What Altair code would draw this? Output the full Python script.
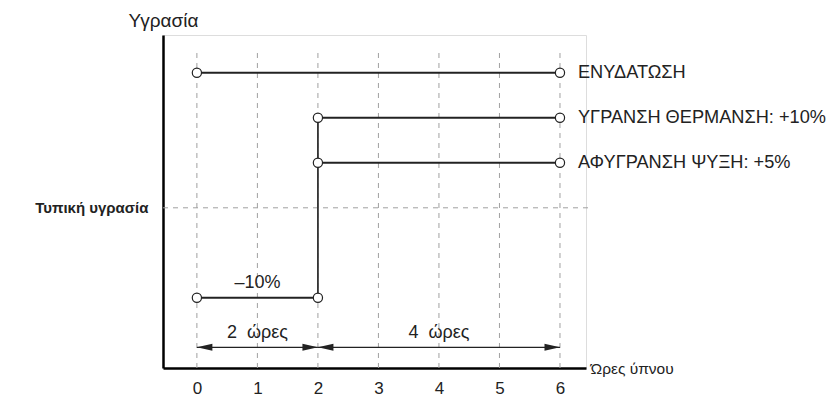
import altair as alt
import pandas as pd

# ---- data ----
series_names = ["ΕΝΥΔΑΤΩΣΗ", "ΥΓΡΑΝΣΗ ΘΕΡΜΑΝΣΗ: +10%", "ΑΦΥΓΡΑΝΣΗ ΨΥΞΗ: +5%", "–10%"]
series_start = [0, 2, 2, 0]
series_end = [6, 6, 6, 2]
series_level = [15, 10, 5, -10]
show_right_label = [True, True, True, False]

hours = [0, 1, 2, 3, 4, 5, 6]
typical_level = 0
step_hour = 2

span_labels = ["2\u00a0\u00a0ώρες", "4\u00a0\u00a0ώρες"]
span_start = [0, 2]
span_end = [2, 6]
span_level = -15.5

x_domain = [-0.56, 6.43]
y_domain = [-17.8, 19.2]
grid_top = 17.2

INK = "#222222"
GRID = "#a0a0a0"
FONT = "Liberation Sans"

# ---- tables ----
seg = pd.DataFrame({"name": series_names, "x0": series_start, "x1": series_end,
                    "y": series_level, "right": show_right_label})
pts = pd.DataFrame({"x": series_start + series_end, "y": series_level + series_level})
grid = pd.DataFrame({"x": hours, "y0": [grid_top] * len(hours), "y1": [y_domain[0]] * len(hours)})
typ = pd.DataFrame({"x0": [x_domain[0]], "x1": [6.5], "y": [typical_level]})
step = pd.DataFrame({"x": [step_hour], "y0": [min(series_level)], "y1": [10]})
spans = pd.DataFrame({"label": span_labels, "x0": span_start, "x1": span_end,
                      "xm": [(a + b) / 2 for a, b in zip(span_start, span_end)],
                      "y": [span_level] * 2})
heads = pd.DataFrame({"x": span_start + span_end, "y": [span_level] * 4,
                      "dir": ["L", "L", "R", "R"]})

xscale = alt.Scale(domain=x_domain, nice=False, zero=False)
yscale = alt.Scale(domain=y_domain, nice=False, zero=False)

xaxis = alt.Axis(values=hours, ticks=False, grid=False, domainColor="black", domainWidth=2.5,
                 labelFontSize=17, labelColor=INK, labelFont=FONT, labelPadding=12,
                 title="Ώρες ύπνου", titleX=427, titleY=0, titleAlign="left",
                 titleBaseline="middle", titleFontWeight="normal", titleFontSize=15.5,
                 titleFont=FONT, titleColor=INK)
yaxis = alt.Axis(values=[typical_level], labelExpr="'Τυπική υγρασία'", ticks=False, grid=False,
                 domainColor="black", domainWidth=2.5, labelFontSize=15, labelFontWeight="bold",
                 labelColor=INK, labelFont=FONT, labelPadding=15,
                 title="Υγρασία", titleAngle=0, titleX=0, titleY=-15, titleAlign="center",
                 titleBaseline="middle", titleFontWeight="normal", titleFontSize=19,
                 titleFont=FONT, titleColor=INK)


def X(f):
    return alt.X(f, type="quantitative", scale=xscale, axis=xaxis)


def Y(f):
    return alt.Y(f, type="quantitative", scale=yscale, axis=yaxis)


grid_l = alt.Chart(grid).mark_rule(color=GRID, strokeDash=[5, 5], strokeWidth=1).encode(
    x=X("x"), y=Y("y0"), y2="y1")
typ_l = alt.Chart(typ).mark_rule(color=GRID, strokeDash=[5, 5], strokeWidth=1, clip=False).encode(
    x=X("x0"), x2="x1", y=Y("y"))
step_l = alt.Chart(step).mark_rule(color="#333333", strokeWidth=1.8).encode(
    x=X("x"), y=Y("y0"), y2="y1")
seg_l = alt.Chart(seg).mark_rule(color=INK, strokeWidth=2).encode(
    x=X("x0"), x2="x1", y=Y("y"))
pts_l = alt.Chart(pts).mark_point(shape="circle", filled=True, fill="white", stroke=INK,
                                  strokeWidth=1.2, size=85, opacity=1).encode(x=X("x"), y=Y("y"))
rlab = alt.Chart(seg).transform_filter("datum.right").mark_text(
    align="left", baseline="middle", dx=18, fontSize=18.2, font=FONT, color=INK).encode(
    x=X("x1"), y=Y("y"), text="name")
llab = alt.Chart(seg).transform_filter("!datum.right").mark_text(
    align="center", baseline="middle", dy=-15, fontSize=18, font=FONT, color=INK).encode(
    x=alt.X("mid:Q", scale=xscale, axis=xaxis), y=Y("y"), text="name").transform_calculate(
    mid="(datum.x0 + datum.x1) / 2")
span_l = alt.Chart(spans).mark_rule(color=INK, strokeWidth=1.2).encode(
    x=X("x0"), x2="x1", y=Y("y"))
span_t = alt.Chart(spans).mark_text(align="center", baseline="middle", dy=-14, fontSize=18,
                                    font=FONT, color=INK).encode(x=X("xm"), y=Y("y"), text="label")
head_R = alt.Chart(heads).transform_filter("datum.dir == 'R'").mark_point(
    shape="M0,0L-2,-0.45L-2,0.45Z", filled=True, color=INK, size=240, opacity=1).encode(
    x=X("x"), y=Y("y"))
head_L = alt.Chart(heads).transform_filter("datum.dir == 'L'").mark_point(
    shape="M0,0L2,-0.45L2,0.45Z", filled=True, color=INK, size=240, opacity=1).encode(
    x=X("x"), y=Y("y"))

chart = alt.layer(grid_l, typ_l, step_l, seg_l, span_l, head_R, head_L, pts_l, rlab, llab, span_t).properties(
    width=423, height=333,
    autosize=alt.AutoSizeParams(type="none"),
    padding={"left": 155, "top": 27, "right": 244, "bottom": 28},
).configure_view(stroke=None).configure(background="white")

chart.save("out.html", embed_options={"renderer": "svg", "actions": False})
